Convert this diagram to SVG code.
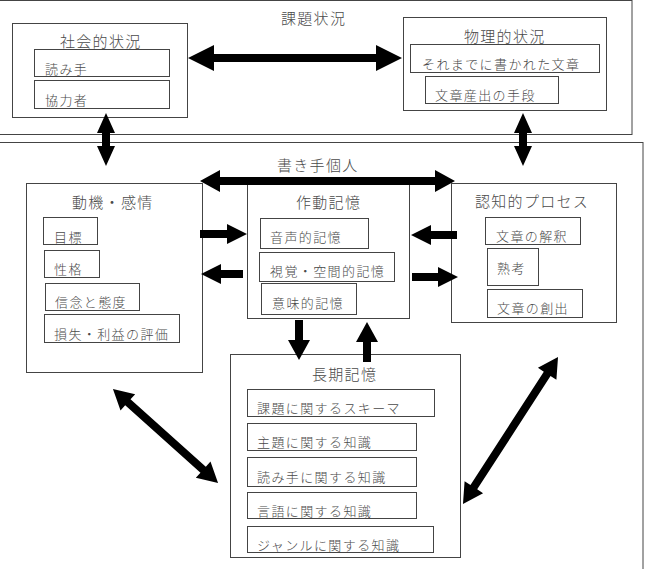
<svg xmlns="http://www.w3.org/2000/svg" width="647" height="569" viewBox="0 0 647 569">
<style>
rect{fill:none;stroke:#444;stroke-width:1}
text{font-family:"Noto Sans CJK JP","Noto Sans CJK SC",sans-serif;fill:#4a4a4a;font-weight:300}
.t{font-size:15px;letter-spacing:1.3px}
.i{font-size:13px;letter-spacing:1.4px}
.a{fill:#000}
</style>
<rect width="647" height="569" style="fill:#fff;stroke:none"/>
<g id="frame-task">
<rect x="-1" y="0.5" width="633" height="134"/>
<text class="t" x="281" y="24">課題状況</text>
</g>
<g id="frame-writer">
<rect x="-1" y="142.5" width="644" height="440"/>
<text class="t" x="277" y="171">書き手個人</text>
</g>
<g id="social">
<rect x="12.5" y="23.5" width="175" height="94"/>
<text class="t" x="60" y="47">社会的状況</text>
<rect x="34.5" y="49.5" width="135" height="27"/>
<text class="i" x="45" y="74">読み手</text>
<rect x="34.5" y="80.5" width="135" height="28"/>
<text class="i" x="45" y="105">協力者</text>
</g>
<g id="physical">
<rect x="403.5" y="17.5" width="203" height="93"/>
<text class="t" x="464" y="42">物理的状況</text>
<rect x="410.5" y="44.5" width="189" height="28"/>
<text class="i" x="422" y="69">それまでに書かれた文章</text>
<rect x="425.5" y="76.5" width="133" height="27"/>
<text class="i" x="435" y="100">文章産出の手段</text>
</g>
<g id="motivation">
<rect x="26.5" y="183.5" width="176" height="189"/>
<text class="t" x="72" y="208">動機・感情</text>
<rect x="43.5" y="217.5" width="54" height="27"/>
<text class="i" x="54" y="242">目標</text>
<rect x="44.5" y="250.5" width="55" height="27"/>
<text class="i" x="54" y="274">性格</text>
<rect x="45.5" y="283.5" width="94" height="27"/>
<text class="i" x="55" y="307">信念と態度</text>
<rect x="44.5" y="314.5" width="135" height="28"/>
<text class="i" x="54" y="339">損失・利益の評価</text>
</g>
<g id="working-memory">
<rect x="247.5" y="183.5" width="162" height="135"/>
<text class="t" x="296" y="208">作動記憶</text>
<rect x="260.5" y="218.5" width="108" height="30"/>
<text class="i" x="270" y="242">音声的記憶</text>
<rect x="259.5" y="252.5" width="135" height="29"/>
<text class="i" x="270" y="276">視覚・空間的記憶</text>
<rect x="261.5" y="283.5" width="95" height="31"/>
<text class="i" x="272" y="308">意味的記憶</text>
</g>
<g id="cognitive">
<rect x="451.5" y="183.5" width="165" height="139"/>
<text class="t" x="475" y="207">認知的プロセス</text>
<rect x="485.5" y="217.5" width="95" height="27"/>
<text class="i" x="496" y="241">文章の解釈</text>
<rect x="487.5" y="248.5" width="51" height="37"/>
<text class="i" x="497" y="273">熟考</text>
<rect x="487.5" y="289.5" width="95" height="28"/>
<text class="i" x="497" y="313">文章の創出</text>
</g>
<g id="long-term-memory">
<rect x="230.5" y="354.5" width="230" height="203"/>
<text class="t" x="312" y="380">長期記憶</text>
<rect x="247.5" y="389.5" width="187" height="27"/>
<text class="i" x="257" y="413">課題に関するスキーマ</text>
<rect x="247.5" y="423.5" width="169" height="27"/>
<text class="i" x="257" y="447">主題に関する知識</text>
<rect x="247.5" y="457.5" width="169" height="29"/>
<text class="i" x="257" y="482">読み手に関する知識</text>
<rect x="247.5" y="492.5" width="169" height="26"/>
<text class="i" x="257" y="516">言語に関する知識</text>
<rect x="247.5" y="526.5" width="186" height="26"/>
<text class="i" x="257" y="550">ジャンルに関する知識</text>
</g>
<g id="connectors" class="a">
<polygon points="188,58 214,45 214,54 376,54 376,45 402,58 376,71 376,62 214,62 214,71"/>
<polygon points="106,113 115,133 110,133 110,146 115,146 106,166 97,146 102,146 102,133 97,133"/>
<polygon points="523,113 532,133 527,133 527,146 532,146 523,166 514,146 519,146 519,133 514,133"/>
<polygon points="200,181 220,170 220,177 435,177 435,170 455,181 435,192 435,185 220,185 220,192"/>
<polygon points="200,230 227,230 227,224 247,234 227,244 227,238 200,238"/>
<polygon points="243,270 221,270 221,264 201,274 221,284 221,278 243,278"/>
<polygon points="457,231 431,231 431,225 411,235 431,245 431,239 457,239"/>
<polygon points="412,273 438,273 438,267 458,277 438,287 438,281 412,281"/>
<polygon points="295,320 303,320 303,340 310,340 299,360 288,340 295,340"/>
<polygon points="363,362 371,362 371,342 378,342 367,322 356,342 363,342"/>
<polygon transform="translate(165.5,436) rotate(41.8)" points="-70.5,0 -50.5,-11 -50.5,-4 50.5,-4 50.5,-11 70.5,0 50.5,11 50.5,4 -50.5,4 -50.5,11"/>
<polygon transform="translate(510.5,430.5) rotate(-57.1)" points="-87.5,0 -67.5,-11 -67.5,-4 67.5,-4 67.5,-11 87.5,0 67.5,11 67.5,4 -67.5,4 -67.5,11"/>
</g>
</svg>
